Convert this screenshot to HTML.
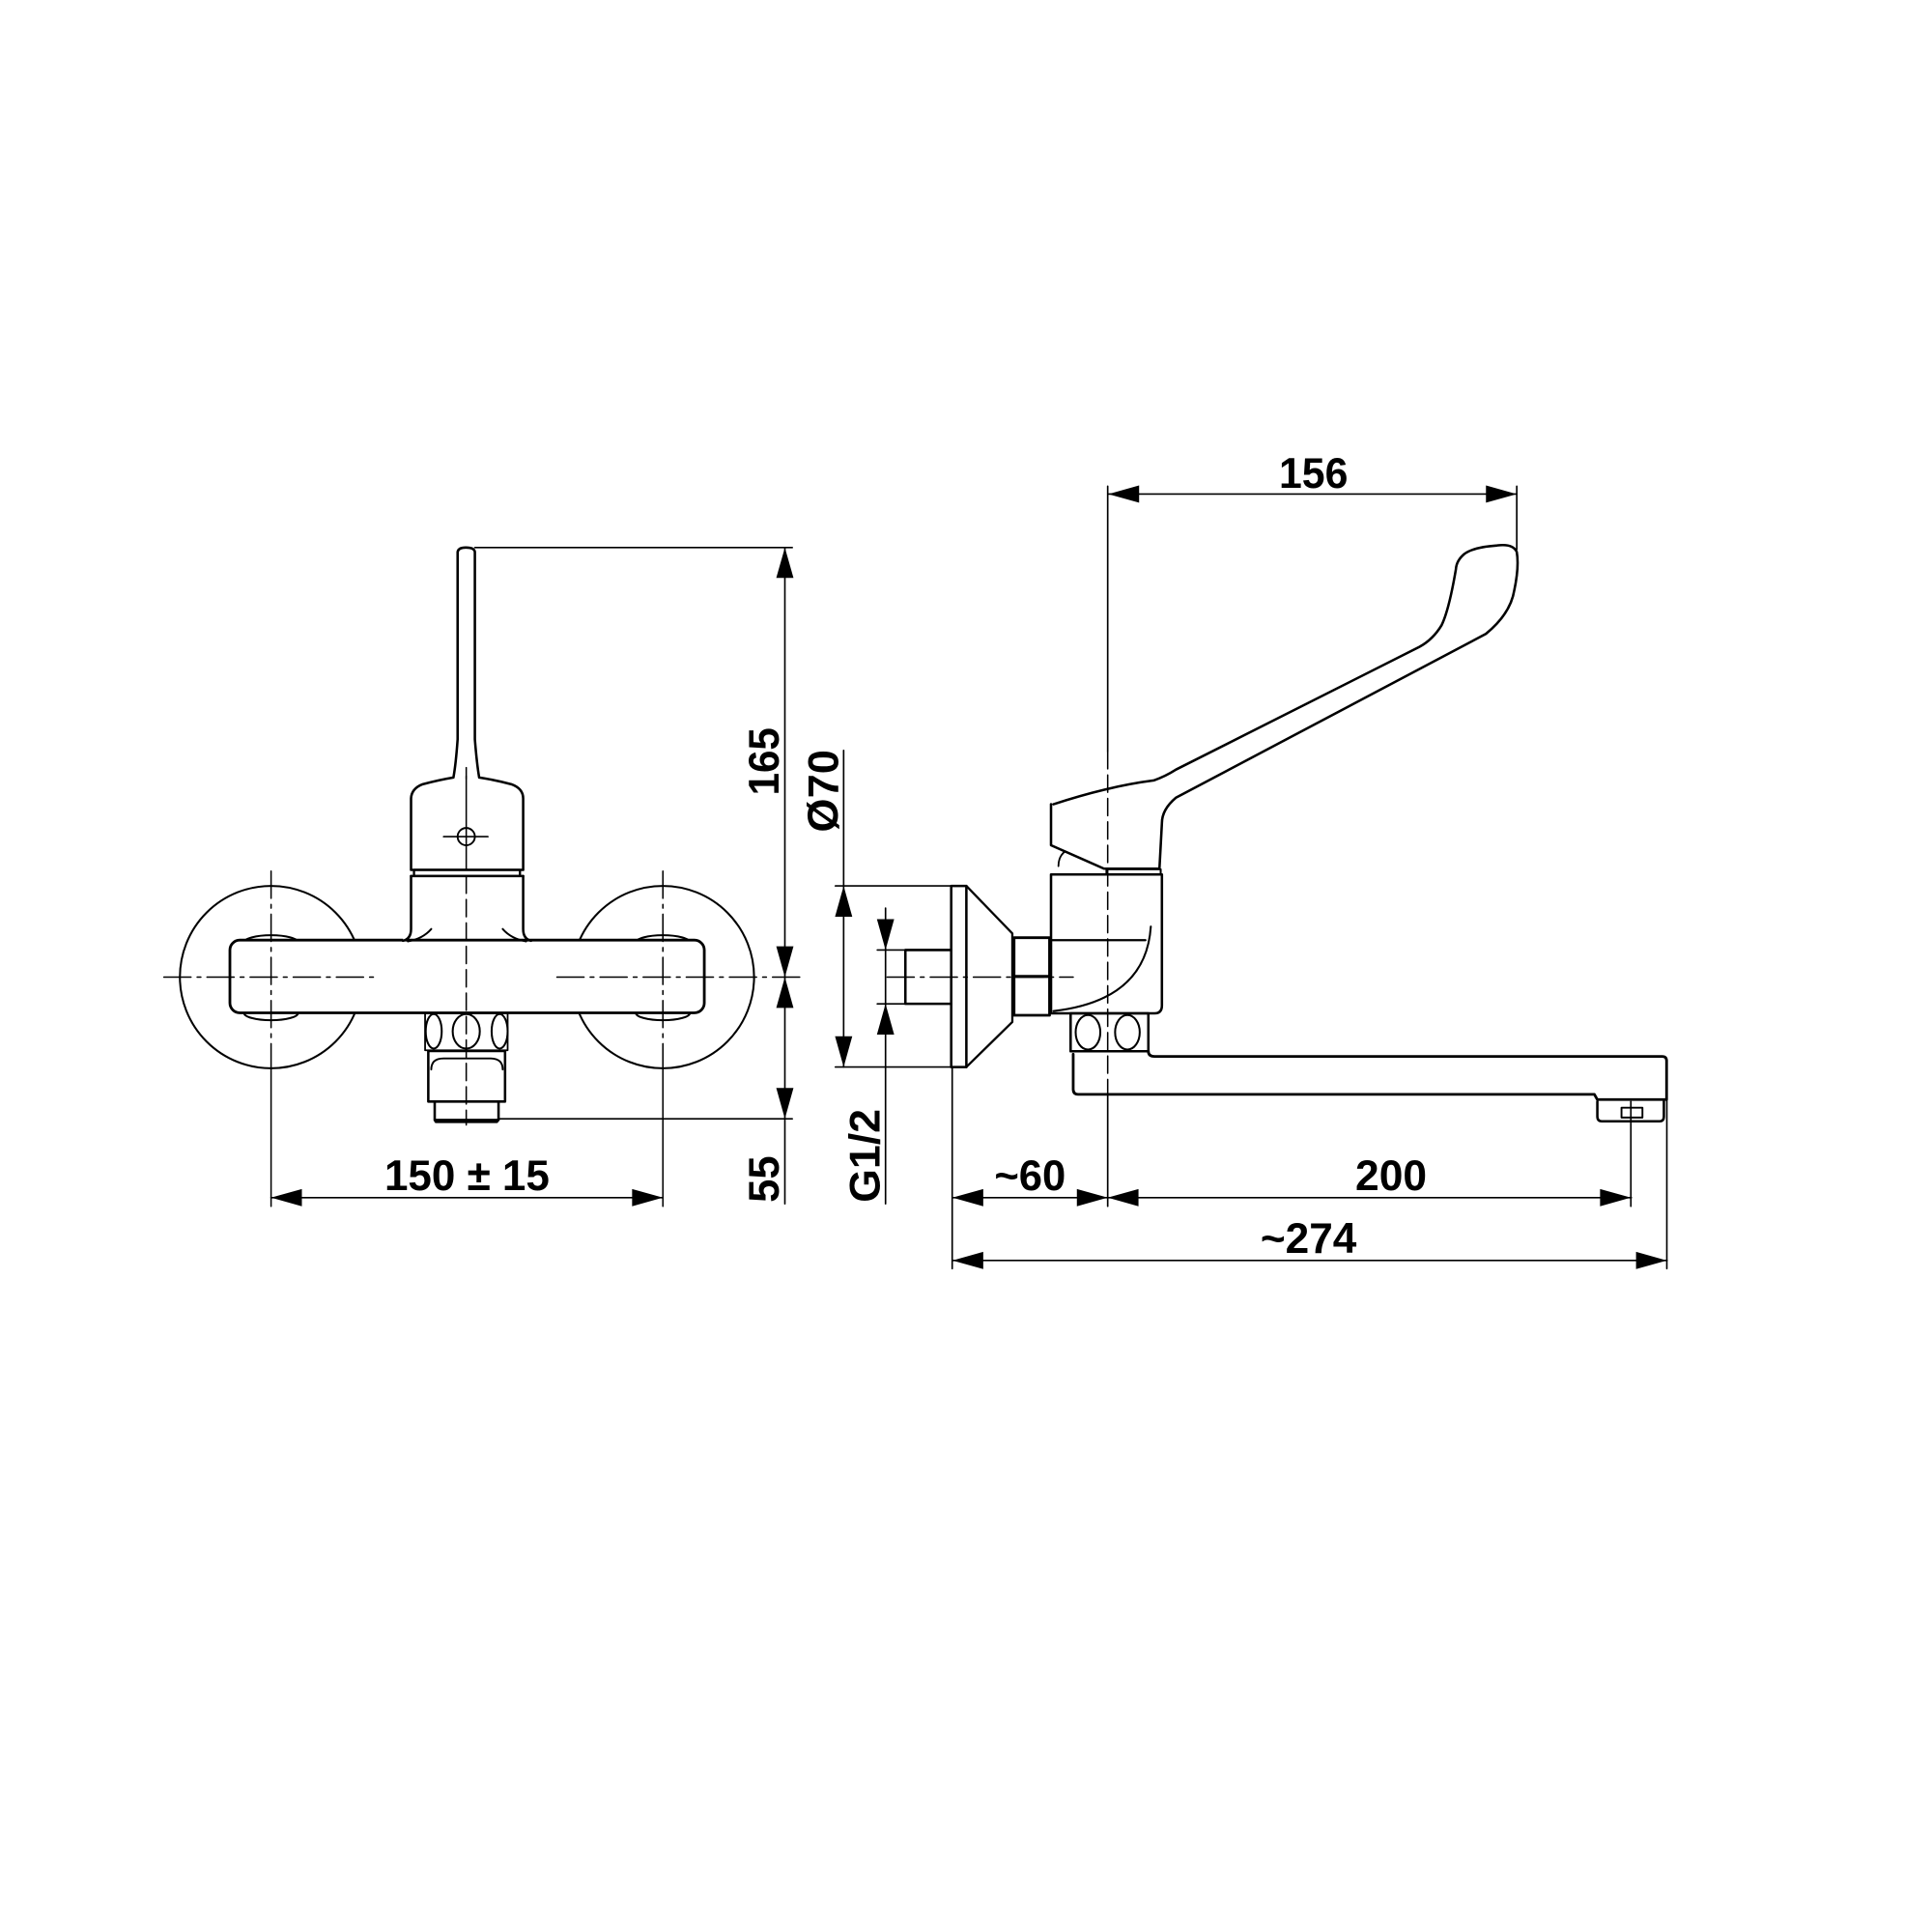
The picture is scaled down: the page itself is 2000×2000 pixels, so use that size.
<!DOCTYPE html>
<html><head><meta charset="utf-8"><style>
html,body{margin:0;padding:0;background:#fff;}
svg{display:block;}
text{font-family:"Liberation Sans",Arial,sans-serif;font-weight:bold;font-size:35px;fill:#000;}
</style></head><body>
<svg width="2000" height="2000" viewBox="0 0 1568 1568" xmlns="http://www.w3.org/2000/svg">
<g fill="none" stroke="#000" stroke-linecap="round" stroke-linejoin="round">

<!-- ===== LEFT VIEW ===== -->
<!-- wall circles -->
<circle cx="220" cy="793" r="74" stroke-width="1.6"/>
<circle cx="538" cy="793" r="74" stroke-width="1.6"/>
<ellipse cx="220" cy="765" rx="22" ry="6" stroke-width="1.6" fill="#fff"/>
<ellipse cx="220" cy="822" rx="22" ry="6" stroke-width="1.6" fill="#fff"/>
<ellipse cx="538" cy="765" rx="22" ry="6" stroke-width="1.6" fill="#fff"/>
<ellipse cx="538" cy="822" rx="22" ry="6" stroke-width="1.6" fill="#fff"/>
<!-- bar -->
<rect x="186.6" y="763" width="385" height="59" rx="8" stroke-width="2.2" fill="#fff"/>
<!-- neck -->
<path d="M333.6,711 L333.6,754 Q333.6,762 327,763.5" stroke-width="2" fill="#fff"/>
<path d="M424.6,711 L424.6,754 Q424.6,762 431,763.5" stroke-width="2"/>
<path d="M350,754 Q343,762 331,764" stroke-width="1.6"/>
<path d="M408,754 Q415,762 427,764" stroke-width="1.6"/>
<line x1="333.6" y1="711" x2="424.6" y2="711" stroke-width="2"/>
<!-- handle box + lever -->
<path d="M333.6,706 L333.6,648 Q334,640 343,636.5 Q356,633 368,631 Q370,620 371.4,600 L371.4,448 Q372,444.4 378,444.4 Q385,444.4 385.4,448 L385.4,600 Q387,620 388.9,631 Q402,633 415,636.5 Q424.6,640 424.6,648 L424.6,706 Z" stroke-width="2" fill="#fff"/>
<rect x="336" y="706" width="86" height="5" stroke-width="1.8"/>
<circle cx="378.4" cy="679" r="7" stroke-width="1.5"/>
<line x1="360" y1="679" x2="396" y2="679" stroke-width="1.2"/>
<line x1="378.4" y1="630" x2="378.4" y2="706" stroke-width="1.2"/>
<!-- ovals under bar -->
<rect x="345" y="822.4" width="67" height="30" stroke-width="1.4"/>
<ellipse cx="352" cy="837" rx="6.5" ry="14" stroke-width="1.6"/>
<ellipse cx="378.4" cy="837" rx="11" ry="14" stroke-width="1.6"/>
<ellipse cx="405.5" cy="837" rx="6.5" ry="14" stroke-width="1.6"/>
<!-- hex nut -->
<rect x="347.6" y="853" width="62.3" height="41" stroke-width="2"/>
<path d="M350,868 Q350,859 360,859 L398,859 Q408,859 408,868" stroke-width="1.5"/>
<path d="M352.8,894 L352.8,909 L404.6,909 L404.6,894" stroke-width="2"/>
<line x1="354" y1="910" x2="403" y2="910" stroke-width="3"/>

<!-- left centerlines -->
<g stroke-width="1.2" stroke-dasharray="22,5,3,5">
<line x1="133" y1="793" x2="307" y2="793"/>
<line x1="452" y1="793" x2="653" y2="793"/>
<line x1="220" y1="707" x2="220" y2="867"/>
<line x1="538" y1="707" x2="538" y2="867"/>
</g>
<line x1="378.4" y1="711" x2="378.4" y2="913" stroke-width="1.2" stroke-dasharray="14,5"/>
<line x1="378.4" y1="623" x2="378.4" y2="632" stroke-width="1.2"/>
<line x1="220" y1="867" x2="220" y2="979" stroke-width="1.2"/>
<line x1="538" y1="867" x2="538" y2="979" stroke-width="1.2"/>

<!-- left dims -->
<g stroke-width="1.3">
<line x1="385.4" y1="444.4" x2="643" y2="444.4"/>
<line x1="404.6" y1="908" x2="643" y2="908"/>
<line x1="637" y1="444.4" x2="637" y2="977"/>
<line x1="220" y1="972" x2="538" y2="972"/>
</g>

<!-- ===== RIGHT VIEW ===== -->
<!-- plate & cone -->
<rect x="772" y="719" width="12.3" height="147" stroke-width="2"/>
<path d="M784.3,719 L821.6,757.6 L821.6,829.4 L784.3,866" stroke-width="1.8"/>
<!-- pipe -->
<path d="M772,771 L734.8,771 L734.8,814.7 L772,814.7" stroke-width="2"/>
<!-- nut -->
<rect x="823" y="761" width="28.8" height="63" stroke-width="2.2"/>
<line x1="823" y1="792.5" x2="851.8" y2="792.5" stroke-width="2.5"/>
<!-- body -->
<path d="M853,709.7 L943,709.7 L943,816 Q943,822.4 937,822.4 L853,822.4 Z" stroke-width="2" fill="#fff"/>
<line x1="853" y1="763" x2="929.6" y2="763" stroke-width="1.8"/>
<path d="M934,752 Q930,812 855,820.6" stroke-width="1.6"/>
<!-- handle -->
<path d="M853,652.7 L853,686 L896,705 L941,705 L943,668 Q943,657 954.4,647.4 L1206,514.4 Q1226,498 1229,479 Q1233,460 1231,448 Q1228,441 1215,442.7 Q1196,444 1188.4,449.6 Q1182,455 1181.6,462 Q1176,495 1170,507.4 Q1163,519 1152,525 L954.4,624.6 Q946,630 936.4,633.4 Q900,638 855,652.7" stroke-width="2" fill="#fff"/>
<path d="M859,703 Q859,695 864.4,691" stroke-width="1.4"/>
<rect x="898" y="705.5" width="44" height="4.2" stroke-width="1.6"/>
<!-- ovals under body -->
<rect x="868.9" y="822.4" width="63.1" height="30.8" stroke-width="2"/>
<ellipse cx="883" cy="837.8" rx="10" ry="14" stroke-width="1.6"/>
<ellipse cx="915" cy="837.8" rx="10" ry="14" stroke-width="1.6"/>
<!-- spout -->
<path d="M932,853.2 Q932,857.4 937,857.4 L1349,857.4 Q1352.6,857.4 1352.6,861 L1352.6,892.4 L1296.4,892.4 L1294,888.2 L875,888.2 Q871,888.2 871,884 L871,855.6" stroke-width="2.2"/>
<path d="M1296.4,894 L1296.4,906 Q1296.4,910 1300,910 L1347,910 Q1350.4,910 1350.4,906 L1350.4,894" stroke-width="2"/>
<rect x="1316" y="899" width="17" height="8" stroke-width="1.5"/>

<!-- right centerlines -->
<line x1="720" y1="793" x2="871" y2="793" stroke-width="1.2" stroke-dasharray="22,5,3,5"/>
<line x1="899" y1="610" x2="899" y2="888" stroke-width="1.2" stroke-dasharray="14,5"/>

<!-- right dims -->
<g stroke-width="1.3">
<line x1="899" y1="394.6" x2="899" y2="610"/>
<line x1="899" y1="888" x2="899" y2="979"/>
<line x1="1231" y1="394.6" x2="1231" y2="446"/>
<line x1="899.5" y1="401" x2="1231" y2="401"/>
<line x1="684.7" y1="609" x2="684.7" y2="866"/>
<line x1="678" y1="719" x2="772" y2="719"/>
<line x1="678" y1="866" x2="784" y2="866"/>
<line x1="718.7" y1="737" x2="718.7" y2="977"/>
<line x1="712" y1="771" x2="735" y2="771"/>
<line x1="712" y1="814.7" x2="735" y2="814.7"/>
<line x1="772.8" y1="866" x2="772.8" y2="1029.6"/>
<line x1="1323.6" y1="894" x2="1323.6" y2="979"/>
<line x1="1352.8" y1="892" x2="1352.8" y2="1029.6"/>
<line x1="773" y1="972" x2="1324" y2="972"/>
<line x1="773" y1="1023" x2="1353" y2="1023"/>
</g>
</g>

<!-- arrowheads -->
<g fill="#000" stroke="none">
<!-- 165/55 -->
<polygon points="637,444.4 630,469 644,469"/>
<polygon points="637,793 630,768 644,768"/>
<polygon points="637,793 630,818 644,818"/>
<polygon points="637,908 630,883 644,883"/>
<!-- 150 -->
<polygon points="220,972 245,965 245,979"/>
<polygon points="538,972 513,965 513,979"/>
<!-- Ø70 -->
<polygon points="684.7,719 677.7,744 691.7,744"/>
<polygon points="684.7,866 677.7,841 691.7,841"/>
<!-- G1/2 -->
<polygon points="718.7,771 711.7,746 725.7,746"/>
<polygon points="718.7,814.7 711.7,839.7 725.7,839.7"/>
<!-- ~60 -->
<polygon points="773,972 798,965 798,979"/>
<polygon points="899,972 874,965 874,979"/>
<!-- 200 -->
<polygon points="899,972 924,965 924,979"/>
<polygon points="1323.6,972 1298.6,965 1298.6,979"/>
<!-- 274 -->
<polygon points="773,1023 798,1016 798,1030"/>
<polygon points="1352.8,1023 1327.8,1016 1327.8,1030"/>
<!-- 156 -->
<polygon points="899.5,401 924.5,394 924.5,408"/>
<polygon points="1231,401 1206,394 1206,408"/>
</g>

<!-- labels -->
<text x="379" y="966" text-anchor="middle" textLength="134" lengthAdjust="spacingAndGlyphs">150 ± 15</text>
<text x="1066" y="396" text-anchor="middle" textLength="56" lengthAdjust="spacingAndGlyphs">156</text>
<text x="836" y="966" text-anchor="middle" textLength="58" lengthAdjust="spacingAndGlyphs">~60</text>
<text x="1129" y="966" text-anchor="middle" textLength="58" lengthAdjust="spacingAndGlyphs">200</text>
<text x="1062" y="1017" text-anchor="middle" textLength="78" lengthAdjust="spacingAndGlyphs">~274</text>
<text transform="translate(632,618) rotate(-90)" text-anchor="middle" textLength="55" lengthAdjust="spacingAndGlyphs">165</text>
<text transform="translate(632,957) rotate(-90)" text-anchor="middle" textLength="38" lengthAdjust="spacingAndGlyphs">55</text>
<text transform="translate(680,642) rotate(-90)" text-anchor="middle" textLength="67" lengthAdjust="spacingAndGlyphs">Ø70</text>
<text transform="translate(714,938) rotate(-90)" text-anchor="middle" textLength="76" lengthAdjust="spacingAndGlyphs">G1/2</text>
</svg>
</body></html>
